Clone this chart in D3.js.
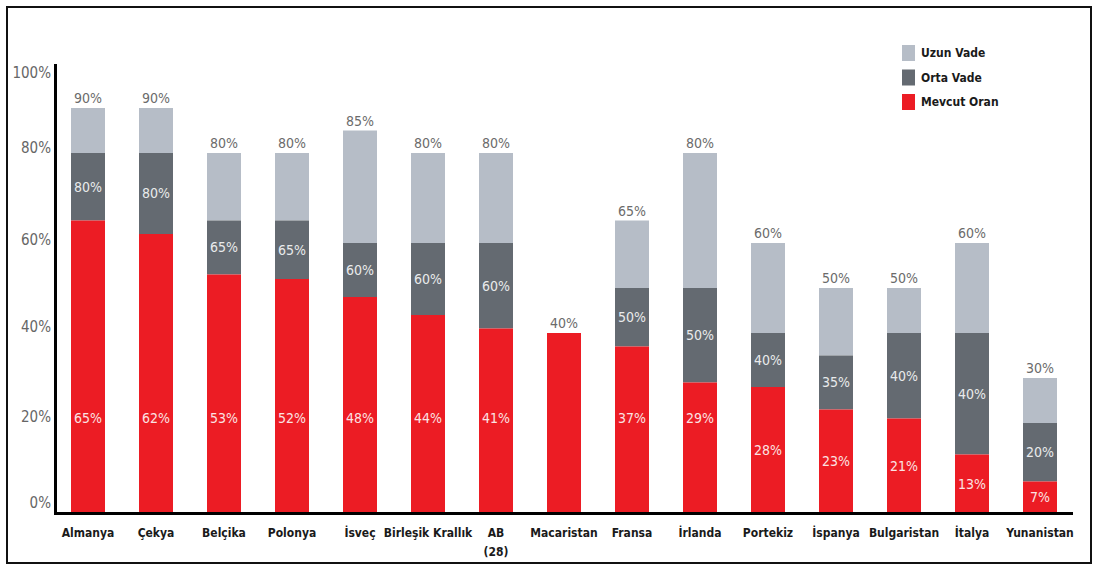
<!DOCTYPE html>
<html>
<head>
<meta charset="utf-8">
<script src="https://cdn.jsdelivr.net/npm/d3@7"></script>
<style>
  body { margin: 0; background: #fff; }
  svg { display: block; }
  text { font-family: "DejaVu Sans Condensed", "Liberation Sans Narrow", "Open Sans", sans-serif; }
</style>
</head>
<body>
<div id="chart"></div>
<script>
// data
var countries = ['Almanya', 'Çekya', 'Belçika', 'Polonya', 'İsveç', 'Birleşik Krallık', 'AB\n(28)',
                 'Macaristan', 'Fransa', 'İrlanda', 'Portekiz', 'İspanya', 'Bulgaristan', 'İtalya', 'Yunanistan']
var mevcut = [65, 62, 53, 52, 48, 44, 41, 40, 37, 29, 28, 23, 21, 13, 7]
var orta   = [80, 80, 65, 65, 60, 60, 60, null, 50, 50, 40, 35, 40, 40, 20]
var uzun   = [90, 90, 80, 80, 85, 80, 80, null, 65, 80, 60, 50, 50, 60, 30]
var yTicks = [0, 20, 40, 60, 80, 100]
var legendNames = ['Uzun Vade', 'Orta Vade', 'Mevcut Oran']

var colRed = '#ec1c24', colDark = '#646a71', colLight = '#b6bdc7'

var W = 1097, H = 569
var svg = d3.select('#chart').append('svg')
    .attr('width', W).attr('height', H)

// frame
svg.append('rect')
    .attr('x', 7).attr('y', 7).attr('width', 1084).attr('height', 556)
    .attr('fill', 'none').attr('stroke', '#111').attr('stroke-width', 2)

// scales
var x = d3.scaleBand()
    .domain(countries)
    .range([54, 1074])
    .paddingInner(0.5).paddingOuter(0.25)

var y = d3.scaleLinear().domain([0, 100]).range([513, 63])
// tick labels in the picture are not evenly spaced, so they get their own scale
var yLab = d3.scaleLinear().domain(yTicks).range([503, 417, 327, 240, 148, 73])

// bars
var rows = countries.map(function(c, i) {
  return {c: c, m: mevcut[i], o: orta[i], u: uzun[i]}
})

var g = svg.append('g')

rows.forEach(function(d) {
  var bx = x(d.c), bw = x.bandwidth()
  if (d.u != null) {
    g.append('rect').attr('x', bx).attr('width', bw)
      .attr('y', y(d.u)).attr('height', y(d.o) - y(d.u)).attr('fill', colLight)
  }
  if (d.o != null) {
    g.append('rect').attr('x', bx).attr('width', bw)
      .attr('y', y(d.o)).attr('height', y(d.m) - y(d.o)).attr('fill', colDark)
  }
  g.append('rect').attr('x', bx).attr('width', bw)
    .attr('y', y(d.m)).attr('height', y(0) - y(d.m)).attr('fill', colRed)

  var cx = bx + bw / 2
  var top = d.u != null ? d.u : d.m
  // label above bar
  g.append('text').attr('x', cx).attr('y', y(top) - 5)
    .attr('text-anchor', 'middle').attr('font-size', 14).attr('fill', '#6b6b6b')
    .text(top + '%')
  // mid label in dark part
  if (d.o != null) {
    g.append('text').attr('x', cx).attr('y', y((d.o + d.m) / 2))
      .attr('dy', '0.35em').attr('text-anchor', 'middle')
      .attr('font-size', 14).attr('fill', '#e9eaec')
      .text(d.o + '%')
    // red part label, tall bars keep it at the 20% line
    var ry = d.m > 28 ? 21 : d.m / 2
    g.append('text').attr('x', cx).attr('y', y(ry))
      .attr('dy', '0.35em').attr('text-anchor', 'middle')
      .attr('font-size', 14).attr('fill', '#fbe3e3')
      .text(d.m + '%')
  }
})

// y tick labels
svg.append('g').selectAll('text')
  .data(yTicks).enter().append('text')
    .attr('x', 51).attr('y', function(d) { return yLab(d) })
    .attr('dy', '0.35em').attr('text-anchor', 'end')
    .attr('font-size', 15).attr('fill', '#666')
    .text(function(d) { return d + '%' })

// axis lines
svg.append('line').attr('x1', 55.5).attr('x2', 55.5).attr('y1', 64).attr('y2', 514)
  .attr('stroke', '#000').attr('stroke-width', 3)
svg.append('line').attr('x1', 54).attr('x2', 1073).attr('y1', 513.5).attr('y2', 513.5)
  .attr('stroke', '#000').attr('stroke-width', 3)

// category labels
countries.forEach(function(c) {
  var t = svg.append('text')
    .attr('x', x(c) + x.bandwidth() / 2).attr('y', 537)
    .attr('text-anchor', 'middle').attr('font-size', 12)
    .attr('font-weight', 'bold').attr('fill', '#1a1a1a')
  c.split('\n').forEach(function(part, k) {
    t.append('tspan').attr('x', x(c) + x.bandwidth() / 2)
      .attr('dy', k == 0 ? 0 : 19).text(part)
  })
})

// legend
var legCols = [colLight, colDark, colRed]
var leg = svg.append('g').attr('transform', 'translate(902,45)')
legendNames.forEach(function(n, i) {
  leg.append('rect').attr('x', 0).attr('y', i * 24.5)
    .attr('width', 13).attr('height', 16).attr('fill', legCols[i])
  leg.append('text').attr('x', 19).attr('y', i * 24.5 + 8)
    .attr('dy', '0.35em').attr('font-size', 12).attr('font-weight', 'bold')
    .attr('fill', '#1a1a1a').text(n)
})
</script>
</body>
</html>
